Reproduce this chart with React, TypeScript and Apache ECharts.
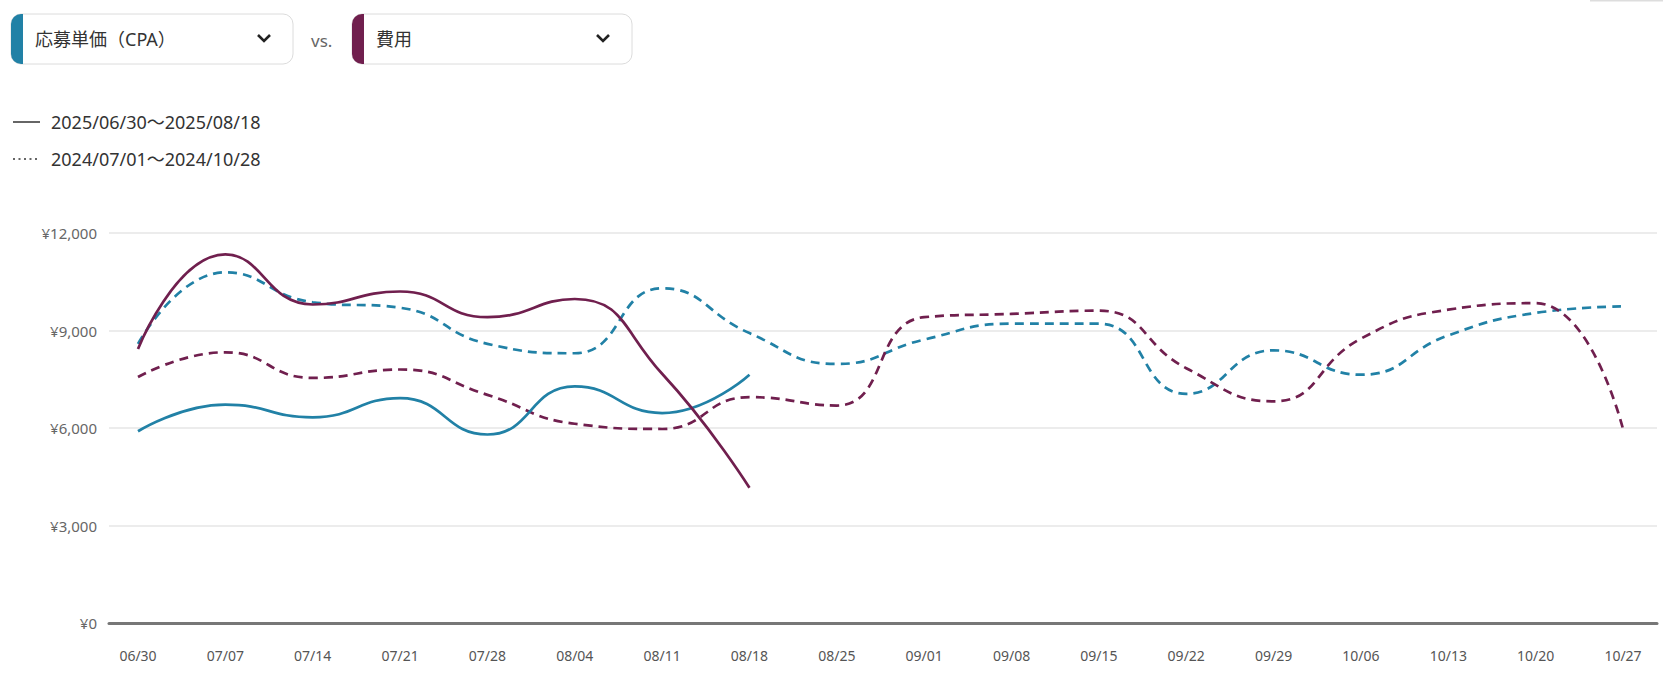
import React, { useEffect, useRef } from "react";
import * as echarts from "echarts";

const categories = ["06/30","07/07","07/14","07/21","07/28","08/04","08/11","08/18","08/25","09/01","09/08","09/15","09/22","09/29","10/06","10/13","10/20","10/27"];
const cpaCurrent = [5900, 6720, 6330, 6920, 5800, 7280, 6460, 7640];
const costCurrent = [8430, 11340, 9800, 10200, 9410, 9970, 7670, 4160];
const cpaPrevious = [8590, 10790, 9870, 9700, 8590, 8300, 10300, 8920, 7970, 8720, 9210, 9210, 7050, 8390, 7640, 8850, 9540, 9740];
const costPrevious = [7570, 8330, 7540, 7800, 7020, 6130, 5970, 6950, 6690, 9410, 9510, 9610, 7840, 6820, 8750, 9640, 9840, 5970];
const yTicks = [0, 3000, 6000, 9000, 12000];
const metricA = "応募単価（CPA）";
const metricB = "費用";
const legendCurrent = "2025/06/30〜2025/08/18";
const legendPrevious = "2024/07/01〜2024/10/28";

const BLUE = "#2181A6";
const PURPLE = "#701F4E";
const FONT = "'Noto Sans', 'Noto Sans CJK JP', sans-serif";

export default function App() {
  const ref = useRef<HTMLDivElement>(null);
  useEffect(() => {
    document.body.style.margin = "0";
    document.body.style.overflow = "hidden";
    const chart = echarts.init(ref.current!, null, { renderer: "svg" });
    const chevron = (cx: number, cy: number) => ({
      type: "polyline",
      shape: { points: [[cx - 6, cy - 3], [cx, cy + 3], [cx + 6, cy - 3]] },
      style: { stroke: "#222", lineWidth: 2.6, fill: null },
    });
    const selector = (x: number, w: number, color: string, label: string) => [
      { type: "rect", shape: { x: x, y: 14, width: w, height: 50, r: 10 }, style: { fill: "#fff", stroke: "#dcdcdc", lineWidth: 1 } },
      { type: "rect", shape: { x: x, y: 14, width: 12, height: 50, r: [10, 0, 0, 10] }, style: { fill: color } },
      { type: "text", x: x + 24, y: 39, style: { text: label, fill: "#333", font: `18px ${FONT}`, textVerticalAlign: "middle" } },
    ];
    const option: any = {
      animation: false,
      textStyle: { fontFamily: FONT },
      grid: [
        { left: 138, right: 40, top: 233, bottom: 58 },
        { left: 109, right: 6, top: 233, bottom: 58 },
      ],
      xAxis: [
        {
          type: "category", gridIndex: 0, data: categories, boundaryGap: false,
          axisLine: { show: false }, axisTick: { show: false }, splitLine: { show: false },
          axisLabel: { color: "#555", fontSize: 14, margin: 25, interval: 0, fontFamily: FONT },
        },
        {
          type: "value", gridIndex: 1, min: 0, max: 1,
          axisLine: { show: true, onZero: false, lineStyle: { color: "#777", width: 3 } },
          axisTick: { show: false }, axisLabel: { show: false }, splitLine: { show: false },
        },
      ],
      yAxis: [
        { type: "value", gridIndex: 0, min: 0, max: 12000, interval: 3000, show: false, splitLine: { show: false } },
        {
          type: "value", gridIndex: 1, min: yTicks[0], max: yTicks[yTicks.length - 1], interval: 3000,
          axisLine: { show: false }, axisTick: { show: false },
          splitLine: { lineStyle: { color: "#e6e6e6", width: 1.5 } },
          axisLabel: { color: "#666", fontSize: 15, margin: 12, fontFamily: FONT, formatter: (v: number) => "¥" + v.toLocaleString("en-US") },
        },
      ],
      series: [
        { name: "cpaPrev", type: "line", data: cpaPrevious, smooth: 0.5, symbol: "none", lineStyle: { color: BLUE, width: 2.7, type: [9, 6] }, z: 2 },
        { name: "costPrev", type: "line", data: costPrevious, smooth: 0.5, symbol: "none", lineStyle: { color: PURPLE, width: 2.7, type: [9, 6] }, z: 2 },
        { name: "cpaCur", type: "line", data: cpaCurrent, smooth: 0.5, symbol: "none", lineStyle: { color: BLUE, width: 2.7 }, z: 3 },
        { name: "costCur", type: "line", data: costCurrent, smooth: 0.5, symbol: "none", lineStyle: { color: PURPLE, width: 2.7 }, z: 3 },
      ],
      graphic: [
        ...selector(11, 282, BLUE, metricA),
        chevron(264, 38),
        { type: "text", x: 311, y: 40, style: { text: "vs.", fill: "#666", font: `17px ${FONT}`, textVerticalAlign: "middle" } },
        ...selector(352, 280, PURPLE, metricB),
        chevron(603, 38),
        { type: "line", shape: { x1: 13, y1: 122, x2: 40, y2: 122 }, style: { stroke: "#333", lineWidth: 1.5 } },
        { type: "text", x: 51, y: 122, style: { text: legendCurrent, fill: "#333", font: `18px ${FONT}`, textVerticalAlign: "middle" } },
        { type: "line", shape: { x1: 13, y1: 159, x2: 40, y2: 159 }, style: { stroke: "#333", lineWidth: 1.5, lineDash: [2, 3.5] } },
        { type: "text", x: 51, y: 159, style: { text: legendPrevious, fill: "#333", font: `18px ${FONT}`, textVerticalAlign: "middle" } },
        { type: "rect", shape: { x: 1590, y: 0, width: 73, height: 1.5 }, style: { fill: "#ddd" } },
      ],
    };
    chart.setOption(option);
    return () => chart.dispose();
  }, []);
  return <div ref={ref} style={{ width: 1663, height: 681 }} />;
}
